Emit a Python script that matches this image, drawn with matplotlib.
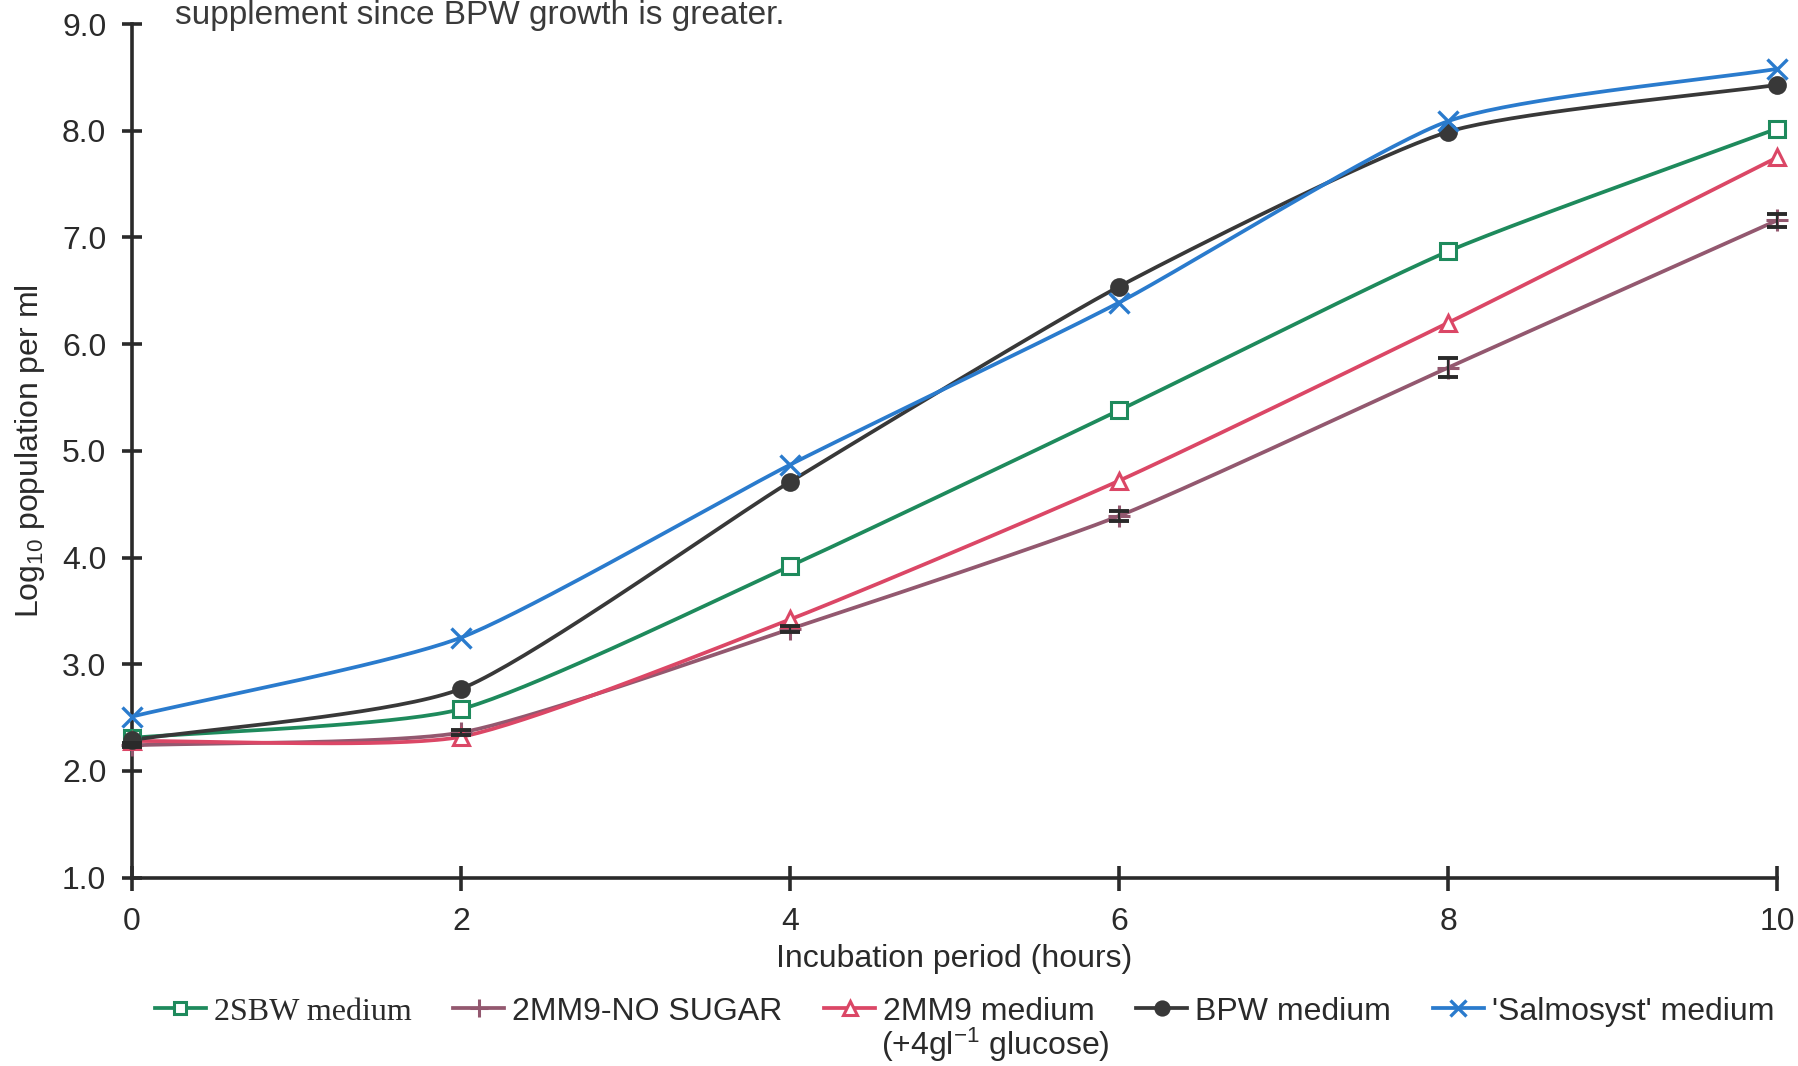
import numpy as np
import matplotlib
matplotlib.use("Agg")
import matplotlib.pyplot as plt

plt.rcParams['font.family'] = ['Liberation Sans', 'DejaVu Sans']
plt.rcParams['mathtext.default'] = 'regular'

hours = [0, 2, 4, 6, 8, 10]
sbw = [2.31, 2.58, 3.92, 5.38, 6.87, 8.02]
mm9_nosugar = [2.24, 2.36, 3.33, 4.39, 5.78, 7.16]
mm9_nosugar_err = [0.02, 0.02, 0.03, 0.05, 0.09, 0.06]
mm9_glucose = [2.28, 2.32, 3.42, 4.72, 6.20, 7.75]
bpw = [2.29, 2.77, 4.71, 6.54, 7.99, 8.43]
salmosyst = [2.51, 3.25, 4.87, 6.39, 8.09, 8.58]

FS = 23
INK = '#2a2a2a'


def smooth(x, y, k=0.1, n=40):
    # Bezier curve through the points (like a spreadsheet "smoothed line")
    x = np.asarray(x, float)
    y = np.asarray(y, float)
    px = np.concatenate([[2 * x[0] - x[1]], x, [2 * x[-1] - x[-2]]])
    py = np.concatenate([[2 * y[0] - y[1]], y, [2 * y[-1] - y[-2]]])
    xs, ys = [], []
    t = np.linspace(0, 1, n)
    for i in range(1, len(px) - 2):
        p0, p1, p2, p3 = [np.array([px[j], py[j]]) for j in (i - 1, i, i + 1, i + 2)]
        c1 = p1 + (p2 - p0) * k
        c2 = p2 - (p3 - p1) * k
        b = ((1 - t) ** 3)[:, None] * p1 + (3 * (1 - t) ** 2 * t)[:, None] * c1 \
            + (3 * (1 - t) * t ** 2)[:, None] * c2 + (t ** 3)[:, None] * p2
        xs.append(b[:, 0])
        ys.append(b[:, 1])
    return np.concatenate(xs), np.concatenate(ys)


fig = plt.figure(figsize=(17.99, 10.66), dpi=100)
ax = fig.add_axes([0.0734, 0.1767, 0.9144, 0.8007])

series = [
    ("2SBW medium", sbw, '#1e8a5c', dict(marker='s', mfc='white', ms=11, mew=2.2)),
    ("2MM9-NO SUGAR", mm9_nosugar, '#93586f', dict(marker='+', ms=16, mew=2.2)),
    ("2MM9 medium", mm9_glucose, '#db4766', dict(marker='^', mfc='white', ms=12, mew=2.2)),
    ("BPW medium", bpw, '#383838', dict(marker='o', ms=12, mew=1.5)),
    ("'Salmosyst' medium", salmosyst, '#2a7bcd', dict(marker='x', ms=14, mew=2.4)),
]

handles = []
for label, vals, col, mk in series:
    sx, sy = smooth(hours, vals)
    ax.plot(sx, sy, color=col, lw=2.7, clip_on=False, zorder=3)
    ax.plot(hours, vals, ls='none', color=col, mec=col, clip_on=False, zorder=4, **mk)
    h, = ax.plot([], [], color=col, mec=col, lw=2.7, **{k: v for k, v in mk.items() if k != 'ms'},
                 ms=mk['ms'] * 0.85)
    handles.append(h)

ax.errorbar(hours, mm9_nosugar, yerr=mm9_nosugar_err, fmt='none', ecolor=INK,
            elinewidth=1.6, capsize=7, capthick=2.8, clip_on=False, zorder=5)

ax.set_xlim(0, 10)
ax.set_ylim(1, 9)
ax.set_xticks(hours)
ax.set_yticks(np.arange(1, 10))
ax.set_yticklabels([f"{v:.1f}" for v in np.arange(1, 10)])
for s in ('top', 'right'):
    ax.spines[s].set_visible(False)
for s in ('left', 'bottom'):
    ax.spines[s].set_linewidth(2.6)
    ax.spines[s].set_color(INK)
ax.tick_params(axis='y', direction='inout', length=15, width=2.6, pad=11,
               labelsize=FS, colors=INK)
ax.tick_params(axis='x', direction='inout', length=18, width=2.6, pad=12,
               labelsize=FS, colors=INK)

ax.set_xlabel("Incubation period (hours)", fontsize=FS, color=INK)
ax.xaxis.set_label_coords(0.5, -0.078)
ax.set_ylabel("Log$_{10}$ population per ml", fontsize=FS, color=INK)
ax.yaxis.set_label_coords(-0.052, 0.5)

fig.text(0.097, 1 - 24 / 1066, "supplement since BPW growth is greater.",
         fontsize=24, color='#3a3a3a', va='baseline', ha='left')

leg = fig.legend(handles, [s[0] for s in series], loc='center left',
                 bbox_to_anchor=(0.086, 0.051), ncol=5, frameon=False,
                 fontsize=FS, handlelength=1.6, handletextpad=0.25,
                 columnspacing=1.3, borderpad=0, borderaxespad=0)
for t in leg.get_texts():
    t.set_color(INK)
leg.get_texts()[0].set_fontfamily(['Liberation Serif', 'DejaVu Serif'])

fig.canvas.draw()
bb = leg.get_texts()[2].get_window_extent().transformed(fig.transFigure.inverted())
fig.text(bb.x0 - 0.001, bb.y0 + 0.001, "(+4gl$^{-1}$ glucose)", fontsize=FS,
         color=INK, va='top', ha='left')

fig.savefig("out.png", dpi=100)
